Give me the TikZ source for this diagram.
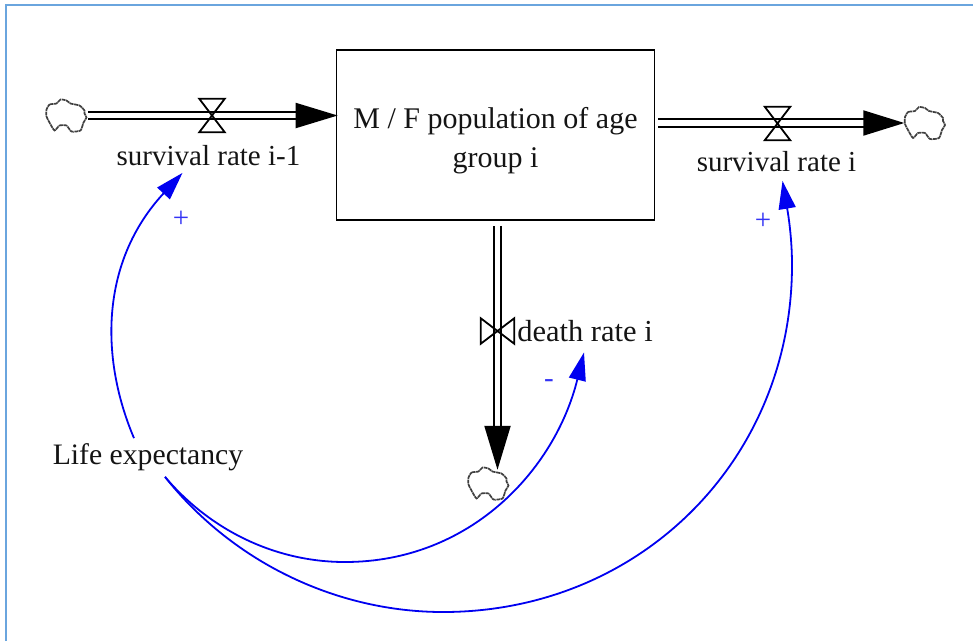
\documentclass[tikz,border=0pt]{standalone}
\usepackage{fontspec}
\setmainfont{Liberation Serif}
\usetikzlibrary{arrows.meta,calc}
\definecolor{framecol}{HTML}{6AA5DE}
\definecolor{linkblue}{HTML}{0000F0}
\definecolor{signblue}{HTML}{3333F5}
\tikzset{
  x=1pt,y=-1pt,
  boxsty/.style={draw=black,line width=1.7pt,minimum width=318pt,minimum height=170pt,inner sep=0pt,align=center,text=black!92,font=\fontsize{30}{39}\selectfont},
  labelsty/.style={inner sep=0pt,text=black!92,font=\fontsize{29}{39}\selectfont},
  pipesty/.style={draw=black,line width=2pt,double=white,double distance=5.4pt},
  valvesty/.style={inner sep=0pt,minimum width=25pt,minimum height=33pt},
  cloudsty/.style={inner sep=0pt,minimum width=41pt,minimum height=33pt},
  signsty/.style={inner sep=0pt,text=signblue,font=\fontsize{29}{30}\selectfont},
  linksty/.style={draw=linkblue,line width=1.8pt,-{Triangle[length=28pt,width=17pt]}},
}
\newcommand{\valvedraw}[1]{\draw[black,line width=1.8pt,line join=miter] (#1.north west)--(#1.north east)--(#1.south west)--(#1.south east)--cycle;}
\newcommand{\valvedrawh}[1]{\draw[black,line width=1.8pt,line join=miter] (#1.north west)--(#1.south west)--(#1.north east)--(#1.south east)--cycle;}
\newcommand{\clouddraw}[1]{\draw[black!75,line width=1.7pt,dash pattern=on 4pt off 0.6pt,shift={(#1)}] plot[smooth cycle,tension=0.35] coordinates {(-20,-6)(-17,-11)(-10,-12)(-6,-16)(0,-15)(4,-12)(13,-10)(18,-5)(18,-2)(20,2)(17,7)(14,15)(5,16)(0,10)(-7,10)(-12,15)(-17,7)(-20,1)};}
\begin{document}
\begin{tikzpicture}
\useasboundingbox (0,0) rectangle (973,641);
% frame
\draw[framecol,line width=2pt] (6,641) -- (6,5) -- (973,5);
% stock
\node[boxsty] (stock) at (495.5,135) {\rule{0pt}{33pt}M / F population of age\\group i};
% clouds
\node[cloudsty] (c1) at (66.5,115.5) {};
\node[cloudsty] (c2) at (925,123) {};
\node[cloudsty] (c3) at (488.5,483.5) {};
\clouddraw{c1} \clouddraw{c2} \clouddraw{c3}
% valves
\node[valvesty] (v1) at (212,115.5) {};
\node[valvesty] (v2) at (777.5,123.5) {};
\node[valvesty,minimum width=33pt,minimum height=25pt] (v3) at (497.5,331) {};
% labels
\node[labelsty] (r1) at (208.5,155.5) {survival rate i-1};
\node[labelsty] (r2) at (776.5,161.5) {survival rate i};
\node[labelsty,font=\fontsize{30.5}{39}\selectfont] (r3) at (585,331.5) {death rate i};
\node[labelsty,font=\fontsize{29.7}{39}\selectfont] (le) at (148,457) {Life expectancy};
% pipes
\draw[pipesty,-{Triangle[length=42pt,width=25pt]}] ($(c1.east)+(1,0)$) -- ($(stock.west|-c1)+(2,0)$);
\draw[pipesty,-{Triangle[length=41pt,width=25pt]}] ($(stock.east|-c2)+(3,0)$) -- ($(c2.west)+(0,0)$);
\draw[pipesty,-{Triangle[length=44pt,width=26pt]}] ($(stock.south-|v3)+(0,5)$) -- ($(c3.north-|v3)+(0,3)$);
\valvedraw{v1} \valvedraw{v2} \valvedrawh{v3}
% influence links
\draw[linksty] ($(le.north)+(-14,-5)$) .. controls (100,358) and (100,262) .. ($(r1.south)+(-26,7)$);
\draw[linksty] ($(le.south)+(17,6)$) .. controls (210,530) and (275,562) .. (345,562) .. controls (470,562) and (555,470) .. ($(r3.south)+(-1,10)$);
\draw[linksty] ($(le.south)+(17,6)$) .. controls (235,565) and (340,612) .. (443,612) .. controls (640,612) and (792,460) .. (792,265) .. controls (792,245) and (790,225) .. ($(r2.south)+(6,9)$);
% signs
\node[signsty] (s1) at (181,219) {+};
\node[signsty] (s2) at (763,221) {+};
\node[signsty] (s3) at (549,384) {-};
\end{tikzpicture}
\end{document}
